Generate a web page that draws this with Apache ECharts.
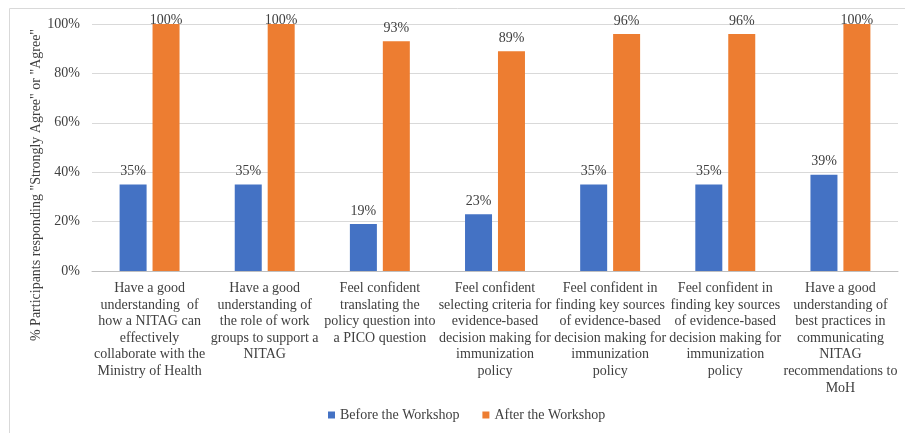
<!DOCTYPE html>
<html><head><meta charset="utf-8">
<script src="https://cdn.jsdelivr.net/npm/echarts@6/dist/echarts.min.js"></script>
<style>html,body{margin:0;padding:0;background:#fff}#c{width:905px;height:433px}</style>
</head><body><div id="c"></div>
<script>
const categories = [
  "Have a good\nunderstanding  of\nhow a NITAG can\neffectively\ncollaborate with the\nMinistry of Health",
  "Have a good\nunderstanding of\nthe role of work\ngroups to support a\nNITAG",
  "Feel confident\ntranslating the\npolicy question into\na PICO question",
  "Feel confident\nselecting criteria for\nevidence-based\ndecision making for\nimmunization\npolicy",
  "Feel confident in\nfinding key sources\nof evidence-based\ndecision making for\nimmunization\npolicy",
  "Feel confident in\nfinding key sources\nof evidence-based\ndecision making for\nimmunization\npolicy",
  "Have a good\nunderstanding of\nbest practices in\ncommunicating\nNITAG\nrecommendations to\nMoH"
];
const beforeValues = [35, 35, 19, 23, 35, 35, 39];
const afterValues = [100, 100, 93, 89, 96, 96, 100];
const seriesNames = ["Before the Workshop", "After the Workshop"];
const yAxisTitle = '% Participants responding "Strongly Agree" or "Agree"';

const font = "'Liberation Serif', 'Times New Roman', serif";
const chart = echarts.init(document.getElementById('c'));
const labelCfg = {show: true, position: 'top', distance: 6, formatter: p => p.value + '%', fontFamily: font, fontSize: 14, color: '#404040'};
const toData = arr => arr.map(v => v >= 100 ? {value: v, label: {distance: -3}} : v);
chart.setOption({
  animation: false,
  textStyle: {fontFamily: font},
  graphic: [
    {type: 'rect', shape: {x: 9.5, y: 8.5, width: 910, height: 440}, style: {fill: 'none', stroke: '#d9d9d9', lineWidth: 1}, z: -1, silent: true},
    {type: 'text', x: 36, y: 185, rotation: Math.PI / 2, style: {text: yAxisTitle, fontFamily: font, fontSize: 14, fill: '#404040', align: 'center', verticalAlign: 'middle'}}
  ],
  grid: {left: 92, right: 7, top: 24, bottom: 162, outerBoundsMode: 'none', containLabel: false},
  legend: {
    left: 323, top: 403, itemWidth: 7, itemHeight: 7, itemGap: 23, icon: 'rect',
    textStyle: {fontFamily: font, fontSize: 14, color: '#404040'},
    data: seriesNames
  },
  xAxis: {
    type: 'category', data: categories,
    axisLine: {lineStyle: {color: '#bfbfbf'}}, axisTick: {show: false},
    axisLabel: {interval: 0, margin: 9, fontFamily: font, fontSize: 14, lineHeight: 16.6, color: '#404040', align: 'center'}
  },
  yAxis: {
    type: 'value', min: 0, max: 100, interval: 20,
    axisLine: {show: false}, axisTick: {show: false},
    axisLabel: {formatter: '{value}%', fontFamily: font, fontSize: 14, color: '#404040', margin: 12},
    splitLine: {lineStyle: {color: '#d9d9d9'}}
  },
  series: [
    {name: seriesNames[0], type: 'bar', data: toData(beforeValues), itemStyle: {color: '#4472c4'}, barWidth: 27, barGap: '22%', label: labelCfg},
    {name: seriesNames[1], type: 'bar', data: toData(afterValues), itemStyle: {color: '#ed7d31'}, barWidth: 27, label: labelCfg}
  ]
});
</script></body></html>
